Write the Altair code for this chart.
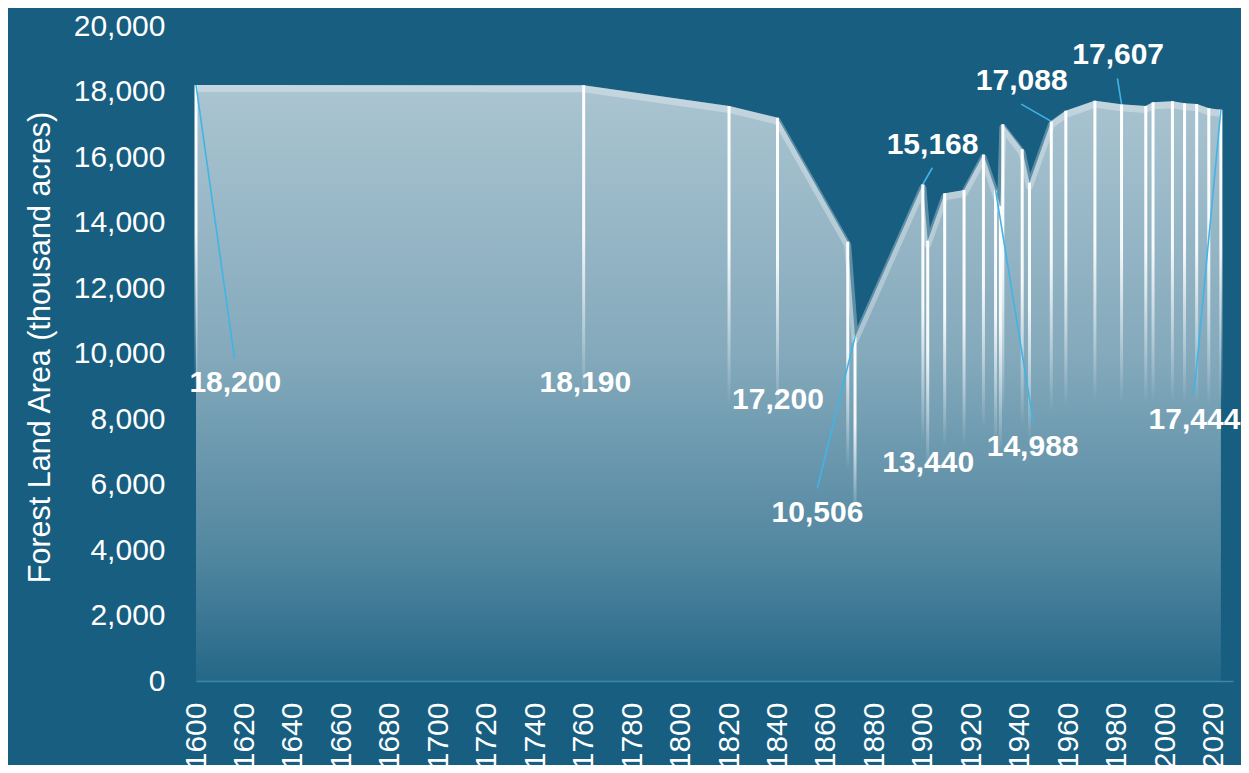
import altair as alt
import pandas as pd

# ---- data ----
years = [1600, 1760, 1820, 1840, 1869, 1872, 1900, 1902, 1909, 1917, 1925, 1930,
         1932, 1933, 1941, 1944, 1953, 1959, 1971, 1982, 1992, 1995, 2003, 2008,
         2013, 2018, 2023]
forest = [18200, 18190, 17560, 17200, 13410, 10506, 15168, 13440, 14890, 14990,
          16080, 14988, 14500, 17000, 16235, 15215, 17088, 17410, 17720, 17607,
          17560, 17670, 17700, 17640, 17620, 17490, 17444]

# labelled points
label_years = [1600, 1760, 1840, 1872, 1900, 1902, 1930, 1953, 1982, 2023]
label_texts = ["18,200", "18,190", "17,200", "10,506", "15,168", "13,440",
               "14,988", "17,088", "17,607", "17,444"]

x_ticks = list(range(1600, 2021, 20))
y_ticks = list(range(0, 20001, 2000))

# ---- annotation layout (label anchor in data units) ----
label_pos_x = [1616.2, 1760.7, 1840.2, 1856.5, 1904.0, 1902.2, 1945.3, 1940.8, 1980.6, 2012.1]
label_pos_y = [9098, 9098, 8579, 5129, 16364, 6671, 7145, 18320, 19112, 7968]
leader_years = [1600, 1872, 1900, 1930, 1953, 1982, 2023]
leader_end_x = [1615.9, 1856.4, 1903.9, 1945.6, 1940.6, 1980.3, 2011.9]
leader_end_y = [9852, 5883, 15672, 7886, 17616, 18400, 8732]

val_of = dict(zip(years, forest))

df = pd.DataFrame({"year": years, "value": forest})
labels = pd.DataFrame({"year": label_pos_x, "value": label_pos_y, "text": label_texts})
leaders = pd.DataFrame({
    "year": leader_years,
    "value": [val_of[y] for y in leader_years],
    "x2": leader_end_x,
    "y2": leader_end_y,
})

BG = "#175e80"
FONT = "Liberation Sans"

xscale = alt.Scale(domain=[1600, 2028], nice=False, zero=False, padding=0)
yscale = alt.Scale(domain=[0, 20000], nice=False, zero=True, padding=0)

x_axis = alt.Axis(values=x_ticks, format="d", title=None,
                  labelAngle=270,
                  labelFontSize=30, labelColor="white", labelFont=FONT,
                  labelPadding=21, ticks=False, grid=False,
                  domainColor="#3c88ab", domainWidth=1.5,
                  labelOverlap=False, labelBound=False, labelFlush=False)
y_axis = alt.Axis(values=y_ticks, format=",d",
                  title="Forest Land Area (thousand acres)",
                  labelFontSize=30, labelColor="white", labelFont=FONT,
                  labelPadding=31, ticks=False, grid=False, domain=False,
                  titleFontSize=30.5, titleFont=FONT, titleFontWeight="normal",
                  titleColor="white", titleAngle=270, titleAlign="center",
                  titleBaseline="middle", titleX=-155.5, titleY=321,
                  labelOverlap=False)


def X():
    return alt.X("year:Q", scale=xscale, axis=x_axis)


def Y():
    return alt.Y("value:Q", scale=yscale, axis=y_axis)


area_grad = alt.Gradient(
    gradient="linear",
    stops=[
        alt.GradientStop(color="rgba(255,255,255,0.64)", offset=0),
        alt.GradientStop(color="rgba(255,255,255,0.47)", offset=0.45),
        alt.GradientStop(color="rgba(255,255,255,0.26)", offset=0.78),
        alt.GradientStop(color="rgba(255,255,255,0.06)", offset=1),
    ],
    x1=0, x2=0, y1=0, y2=1,
)

area = alt.Chart(df).mark_area(color=area_grad, interpolate="linear").encode(
    x=X(), y=Y()
)

band = alt.Chart(df).mark_line(color="white", opacity=0.3, strokeWidth=7,
                               yOffset=3.5, strokeJoin="round").encode(
    x=X(), y=Y()
)

bar_grad = alt.Gradient(
    gradient="linear",
    stops=[
        alt.GradientStop(color="rgba(255,255,255,1)", offset=0),
        alt.GradientStop(color="rgba(255,255,255,0.92)", offset=0.25),
        alt.GradientStop(color="rgba(255,255,255,0)", offset=0.52),
    ],
    x1=0, x2=0, y1=0, y2=1,
)

drops = alt.Chart(df).mark_bar(size=3, fill=bar_grad).encode(
    x=X(), y=Y(), y2=alt.datum(0),
)

rules = alt.Chart(leaders).mark_rule(color="#40b4e6", strokeWidth=1.6).encode(
    x=X(), y=Y(), x2="x2:Q", y2="y2:Q",
)

texts = alt.Chart(labels).mark_text(
    font=FONT, fontSize=30, fontWeight="bold", color="white",
    align="center", baseline="middle"
).encode(
    x=X(), y=Y(), text="text:N",
)

chart = alt.layer(area, band, drops, rules, texts).properties(
    width=1037, height=655,
    background=BG,
    autosize=alt.AutoSizeParams(type="none"),
    padding={"left": 188, "top": 18, "right": 8, "bottom": 84},
).configure_view(stroke=None)

chart.save("out.html", embed_options={"renderer": "svg", "actions": False})
